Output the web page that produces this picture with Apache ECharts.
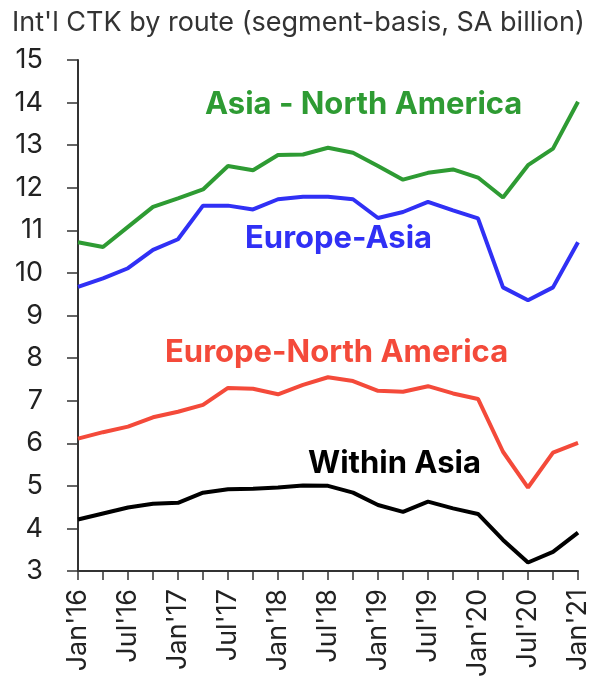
<!DOCTYPE html>
<html>
<head>
<meta charset="utf-8">
<script src="https://cdn.jsdelivr.net/npm/echarts@6/dist/echarts.min.js"></script>
<style>
  html, body { margin: 0; padding: 0; background: #fff; }
  #container { width: 591px; height: 677px; }
</style>
</head>
<body>
<div id="container"></div>
<script>
var dom = document.getElementById('container');
var myChart = echarts.init(dom);

// quarterly, Jan'16 .. Jan'21
let quarters = ["Jan'16", "Apr'16", "Jul'16", "Oct'16", "Jan'17", "Apr'17", "Jul'17", "Oct'17",
  "Jan'18", "Apr'18", "Jul'18", "Oct'18", "Jan'19", "Apr'19", "Jul'19", "Oct'19",
  "Jan'20", "Apr'20", "Jul'20", "Oct'20", "Jan'21"]

let asiaNorthAmerica = [10.72, 10.61, 11.08, 11.55, 11.75, 11.96, 12.51, 12.41, 12.77, 12.78, 12.94,
  12.82, 12.51, 12.19, 12.35, 12.43, 12.24, 11.77, 12.53, 12.92, 14.02]
let europeAsia = [9.67, 9.87, 10.11, 10.54, 10.79, 11.58, 11.58, 11.49, 11.73, 11.79, 11.79,
  11.73, 11.29, 11.43, 11.67, 11.47, 11.28, 9.66, 9.36, 9.66, 10.72]
let europeNorthAmerica = [6.11, 6.26, 6.39, 6.61, 6.74, 6.90, 7.30, 7.28, 7.15, 7.37, 7.55,
  7.46, 7.23, 7.21, 7.34, 7.17, 7.04, 5.80, 4.96, 5.78, 6.01]
let withinAsia = [4.21, 4.35, 4.49, 4.58, 4.60, 4.84, 4.92, 4.93, 4.96, 5.01, 5.00,
  4.84, 4.55, 4.39, 4.63, 4.47, 4.34, 3.73, 3.20, 3.45, 3.90]

let seriesNames = ['Asia - North America', 'Europe-Asia', 'Europe-North America', 'Within Asia']
let seriesColors = ['#2e9b33', '#3030f5', '#f44a3a', '#000000']

let fontName = 'Inter, "Liberation Sans", Arial, sans-serif'

function makeLine(name, color, data) {
    return {
        name: name,
        type: 'line',
        symbol: 'none',
        smooth: false,
        lineStyle: { width: 4, color: color },
        data: data
    }
}

// series name labels inside the plot
function nameLabel(text, color, left, top) {
    return {
        type: 'text',
        left: left,
        top: top,
        style: {
            text: text,
            fill: color,
            font: 'bold 31px ' + fontName
        }
    }
}

option = {
    backgroundColor: '#fff',
    animation: false,
    title: {
        text: "Int'l CTK by route (segment-basis, SA billion)",
        left: 7,
        top: 4,
        textStyle: {
            color: '#333',
            fontSize: 27,
            fontWeight: 'normal',
            fontFamily: fontName
        }
    },
    grid: {
        left: 78,
        right: 13,
        top: 60,
        bottom: 106,
        outerBoundsMode: 'none'
    },
    xAxis: {
        type: 'category',
        boundaryGap: false,
        data: quarters,
        axisLine: { lineStyle: { color: '#333', width: 2 } },
        axisTick: { show: true, interval: 0, length: 9, lineStyle: { color: '#333', width: 1.5 } },
        axisLabel: {
            interval: 1,
            rotate: 90,
            color: '#222',
            fontSize: 27,
            margin: 18,
            fontFamily: fontName
        },
        splitLine: { show: false }
    },
    yAxis: {
        type: 'value',
        min: 3,
        max: 15,
        interval: 1,
        axisLine: { show: true, lineStyle: { color: '#333', width: 2 } },
        axisTick: { show: true, length: 11, lineStyle: { color: '#333', width: 1.5 } },
        axisLabel: {
            color: '#222',
            fontSize: 27,
            margin: 35,
            fontFamily: fontName
        },
        splitLine: { show: false }
    },
    graphic: [
        nameLabel(seriesNames[0], seriesColors[0], 205, 89),
        nameLabel(seriesNames[1], seriesColors[1], 245, 223),
        nameLabel(seriesNames[2], seriesColors[2], 165, 337),
        nameLabel(seriesNames[3], seriesColors[3], 308, 448)
    ],
    series: [
        makeLine(seriesNames[0], seriesColors[0], asiaNorthAmerica),
        makeLine(seriesNames[1], seriesColors[1], europeAsia),
        makeLine(seriesNames[2], seriesColors[2], europeNorthAmerica),
        makeLine(seriesNames[3], seriesColors[3], withinAsia)
    ]
};
myChart.setOption(option);

window.addEventListener("resize", function () {
    myChart.resize();
});
</script>
</body>
</html>
